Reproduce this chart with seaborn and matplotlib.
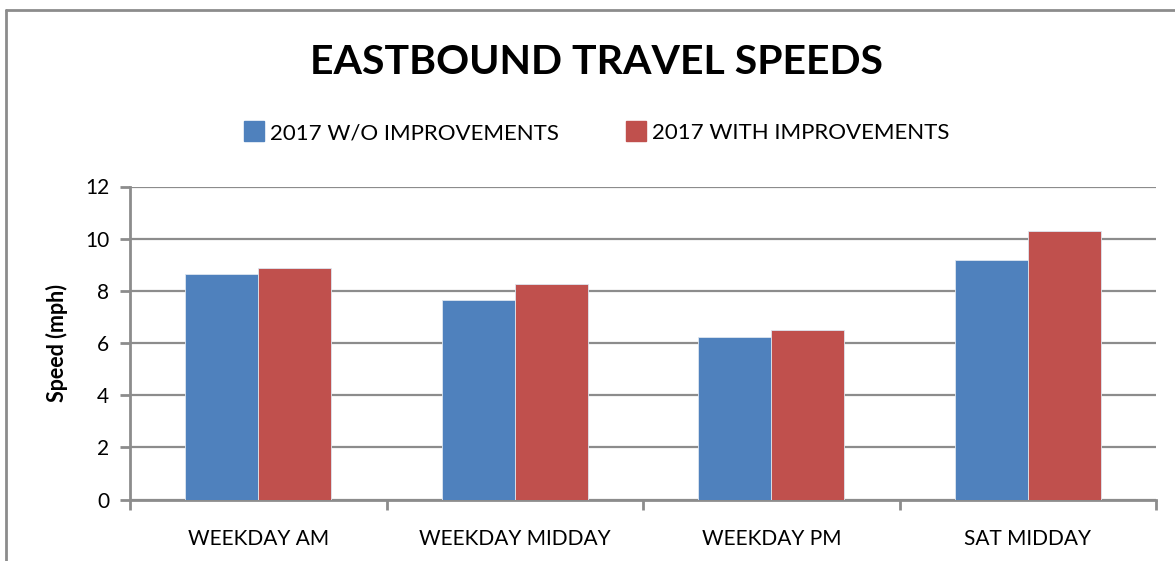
import matplotlib
matplotlib.use("Agg")
import matplotlib.pyplot as plt
from matplotlib.lines import Line2D
import pandas as pd
import seaborn as sns

periods = ["WEEKDAY AM", "WEEKDAY MIDDAY", "WEEKDAY PM", "SAT MIDDAY"]
scenarios = ["2017 W/O IMPROVEMENTS", "2017 WITH IMPROVEMENTS"]
speeds_without = [8.65, 7.63, 6.24, 9.18]
speeds_with = [8.87, 8.26, 6.48, 10.31]
y_ticks = [0, 2, 4, 6, 8, 10, 12]
colors = ["#4F81BD", "#C0504D"]

df = pd.DataFrame({
    "period": periods * 2,
    "scenario": [scenarios[0]] * 4 + [scenarios[1]] * 4,
    "speed": speeds_without + speeds_with,
})

sns.set_style("white")
plt.rcParams["font.family"] = ["Lato", "DejaVu Sans"]
plt.rcParams["text.color"] = "black"
plt.rcParams["axes.labelcolor"] = "black"
plt.rcParams["xtick.labelcolor"] = "black"
plt.rcParams["ytick.labelcolor"] = "black"

fig = plt.figure(figsize=(11.75, 5.61), dpi=100)
ax = fig.add_axes([130 / 1175, 1 - 499.5 / 561, (1156 - 130) / 1175, 313 / 561])

sns.barplot(
    data=df, x="period", y="speed", hue="scenario", order=periods,
    hue_order=scenarios, palette=colors, width=0.57, saturation=1,
    edgecolor="#DDE6F0", linewidth=0.6, ax=ax, zorder=3,
)

ax.set_ylim(0, 12)
ax.set_xlim(-0.5, 3.5)
ax.set_yticks(y_ticks)
ax.set_yticklabels([str(t) for t in y_ticks], fontsize=15)
ax.yaxis.grid(True, color="#8C8C8C", linewidth=1.6, zorder=0)
ax.set_axisbelow(True)
for side in ["top", "right"]:
    ax.spines[side].set_visible(False)
for side in ["left", "bottom"]:
    ax.spines[side].set_color("#8C8C8C")
    ax.spines[side].set_linewidth(2)

ax.set_xticks([x - 0.5 for x in range(5)])
ax.set_xticklabels([])
ax.set_xticks(range(4), minor=True)
ax.set_xticklabels(periods, minor=True, fontsize=15)
ax.tick_params(axis="x", which="major", direction="out", length=7, width=2, color="#8C8C8C", bottom=True)
ax.tick_params(axis="x", which="minor", length=0, pad=21)
ax.tick_params(axis="y", direction="out", length=7, width=2, color="#8C8C8C", left=True, pad=8)

ax.set_xlabel("")
ax.set_ylabel("Speed (mph)", fontsize=15.5, fontweight="bold", labelpad=12)

ax.legend_.remove()
handles = [Line2D([], [], marker="s", linestyle="", markersize=14, color=c) for c in colors]
fig.legend(handles, scenarios, loc="center", bbox_to_anchor=(596 / 1175, 1 - 133 / 561),
           ncol=2, frameon=False, fontsize=16, handletextpad=0.2, columnspacing=3.0,
           handlelength=1.0)

fig.text(597 / 1175, 1 - 62 / 561, "EASTBOUND TRAVEL SPEEDS", ha="center", va="center",
         fontsize=29.5, fontweight="bold")

# chart area border (top and left edges are visible in the crop)
fig.add_artist(Line2D([6 / 1175, 1], [1 - 10 / 561] * 2, color="#8C8C8C", linewidth=2))
fig.add_artist(Line2D([6 / 1175] * 2, [0, 1 - 10 / 561], color="#8C8C8C", linewidth=2))

fig.savefig("out.png", dpi=100)
